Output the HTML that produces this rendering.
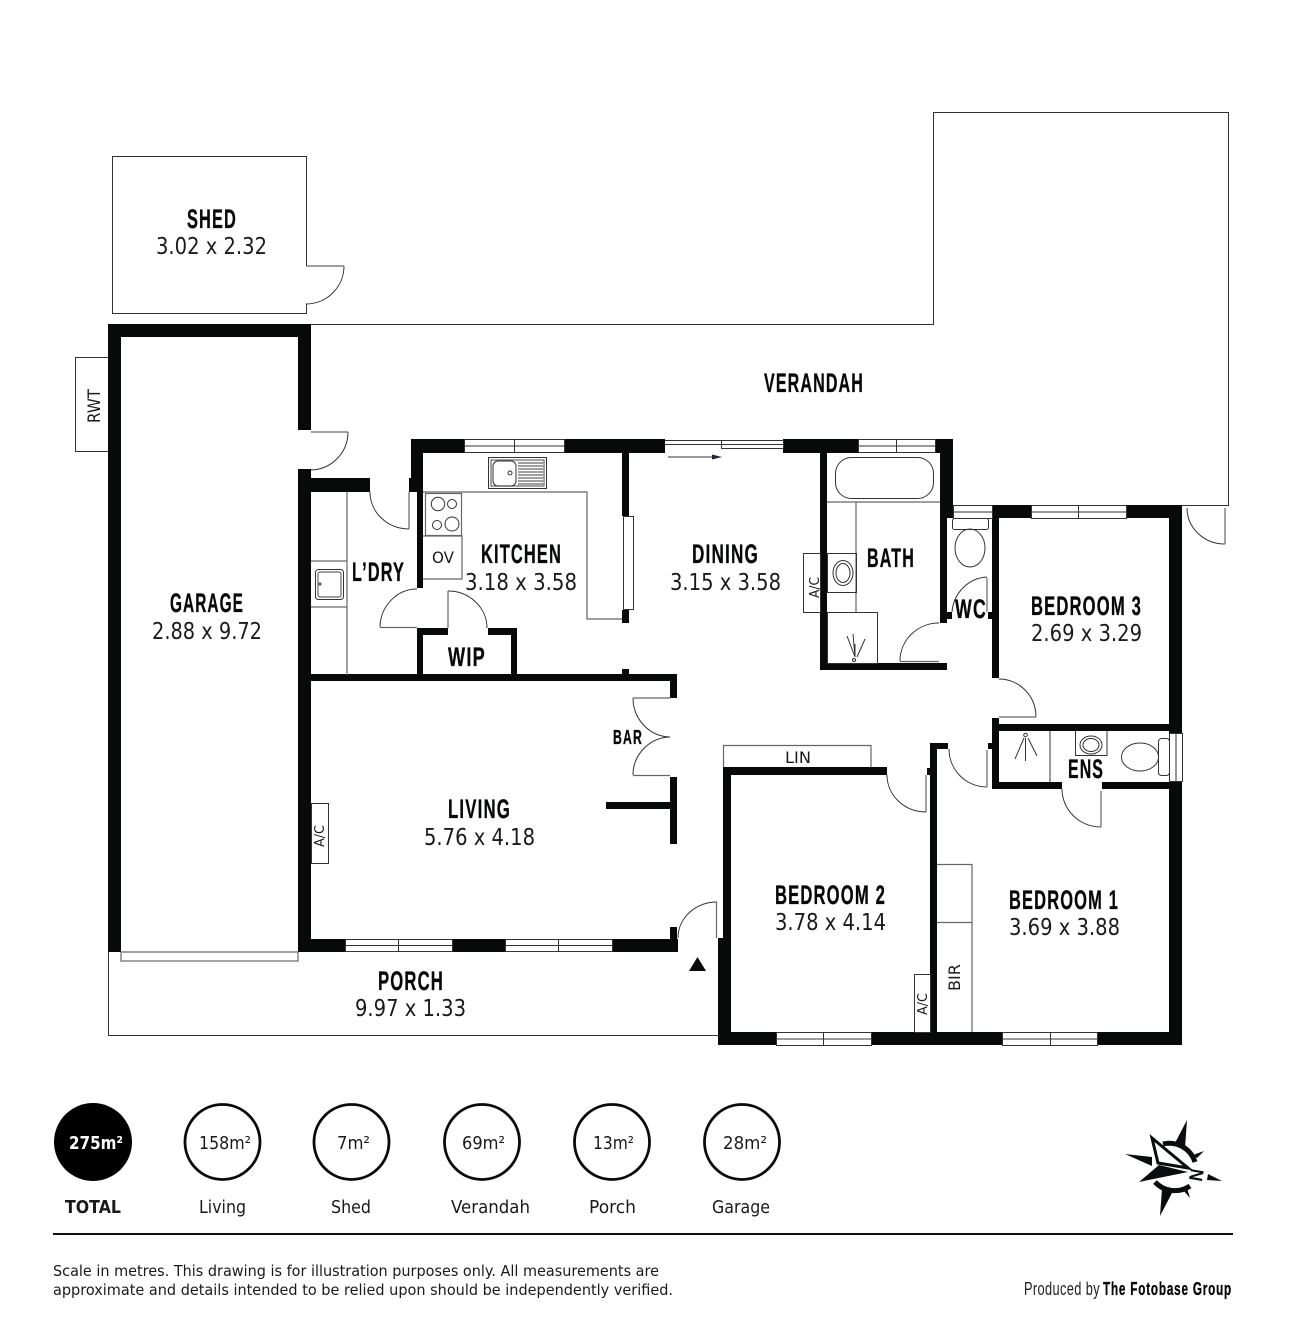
<!DOCTYPE html>
<html><head><meta charset="utf-8"><style>
html,body{margin:0;padding:0;background:#fff}
svg{display:block}
.h{font-family:"Liberation Sans",sans-serif;font-weight:700;fill:#070808;letter-spacing:.07em;stroke:#070808;stroke-width:.35}
.d{font-family:"DejaVu Sans",sans-serif;fill:#1a1a1a}
.w{fill:#080a09}
.t{fill:none;stroke:#333;stroke-width:1}
.g{fill:none;stroke:#666;stroke-width:1.2}
.win{fill:#fff;stroke:#333;stroke-width:1}
</style></head><body>
<svg width="1304" height="1333" viewBox="0 0 1304 1333" xmlns="http://www.w3.org/2000/svg">
<rect width="1304" height="1333" fill="#fff"/>

<!-- outlines -->
<path class="t" d="M306.500 266V156.500H112.500V313.500H306.500V304"/>
<path class="t" d="M311 324.500H933.500V112.500H1228.500V505.500H1182"/>
<path class="t" d="M108.500 952V1035.500H718"/>
<rect class="t" x="75.500" y="357.500" width="33" height="94"/>
<rect class="g" x="121" y="952" width="177" height="9"/>

<!-- door arcs -->
<g class="t">
<path d="M344 266A38 38 0 0 1 306 304"/><path class="g" d="M306 266H344"/>
<path d="M348 432A38 38 0 0 1 311 470"/><path class="g" d="M311 432H348"/>
<path d="M370 492A39 37 0 0 0 409 529"/><path class="g" d="M409 492V529"/>
<path d="M417 589A37 39 0 0 0 380 627"/><path class="g" d="M380 627.500H417"/>
<path d="M448 591A39 37 0 0 1 487 628"/><path class="g" d="M448 591V628"/>
<path d="M633 698A38 39 0 0 0 670 737"/><path class="g" d="M633 698H670"/>
<path d="M670 737A38 38 0 0 0 633 775"/><path class="g" d="M633 775.500H670"/>
<path d="M717 902A39 36 0 0 0 678 938"/><path class="g" d="M716.500 902V938"/>
<path d="M887 775A39 37 0 0 0 926 812"/><path class="g" d="M926 775V812"/>
<path d="M949 749A38 38 0 0 0 987 787"/><path class="g" d="M987 750V787"/>
<path d="M1062 789A39 38 0 0 0 1101 827"/><path class="g" d="M1101 791V827"/>
<path d="M999 679A37 38 0 0 1 1036 717"/><path class="g" d="M999 717H1036"/>
<path d="M939 623A39 38 0 0 0 900 661"/><path class="g" d="M900 661.500H939"/>
<path d="M987 577A37 38 0 0 0 952 612"/><path class="g" d="M987 578V612"/>
<path d="M1187 508A38 36 0 0 0 1225 544"/><path class="g" d="M1225 508V544"/>
</g>

<!-- walls -->
<g class="w">
<rect x="108" y="324" width="203" height="13"/>
<rect x="108" y="324" width="13" height="628"/>
<rect x="298" y="324" width="13" height="106"/>
<rect x="298" y="469" width="13" height="483"/>
<rect x="298" y="478" width="72" height="14"/>
<rect x="411" y="439" width="53" height="14"/>
<rect x="564" y="439" width="101" height="14"/>
<rect x="411" y="439" width="12" height="53"/>
<rect x="409" y="478" width="4" height="14"/>
<rect x="417" y="492" width="6" height="96"/>
<rect x="622" y="453" width="7" height="63"/>
<rect x="622" y="610" width="7" height="13"/>
<rect x="417" y="628" width="31" height="7"/>
<rect x="488" y="628" width="29" height="7"/>
<rect x="417" y="628" width="6" height="50"/>
<rect x="511" y="628" width="6" height="50"/>
<rect x="311" y="674" width="366" height="7"/>
<rect x="622" y="669" width="7" height="6"/>
<rect x="670" y="674" width="7" height="24"/>
<rect x="670" y="777" width="7" height="67"/>
<rect x="606" y="802" width="64" height="7"/>
<rect x="298" y="939" width="47" height="13"/>
<rect x="452" y="939" width="53" height="13"/>
<rect x="612" y="939" width="66" height="13"/>
<rect x="670" y="927" width="7" height="13"/>
<rect x="723" y="767" width="164" height="8"/>
<rect x="723" y="767" width="8" height="278"/>
<rect x="718" y="938" width="13" height="107"/>
<rect x="718" y="1032" width="58" height="13"/>
<rect x="871" y="1032" width="131" height="13"/>
<rect x="1097" y="1032" width="85" height="13"/>
<rect x="930" y="743" width="7" height="290"/>
<rect x="930" y="743" width="18" height="6"/>
<rect x="927" y="768" width="3" height="7"/>
<rect x="988" y="743" width="5" height="6"/>
<rect x="992" y="718" width="7" height="71"/>
<rect x="992" y="724" width="177" height="7"/>
<rect x="992" y="782" width="70" height="7"/>
<rect x="1102" y="782" width="80" height="7"/>
<rect x="1169" y="505" width="13" height="228"/>
<rect x="1169" y="781" width="13" height="264"/>
<rect x="783" y="439" width="75" height="14"/>
<rect x="935" y="439" width="18" height="14"/>
<rect x="820" y="439" width="7" height="231"/>
<rect x="820" y="663" width="127" height="7"/>
<rect x="940" y="439" width="13" height="79"/>
<rect x="940" y="518" width="7" height="105"/>
<rect x="947" y="612" width="5" height="7"/>
<rect x="988" y="612" width="5" height="7"/>
<rect x="992" y="505" width="39" height="13"/>
<rect x="1126" y="505" width="56" height="13"/>
<rect x="992" y="505" width="7" height="173"/>
</g>

<!-- windows -->
<g class="win">
<rect x="464.500" y="439.500" width="100" height="13"/><path d="M464 446H564M514.500 440V452"/>
<rect x="345.500" y="939.500" width="107" height="12"/><path d="M345 945.500H452M398.500 940V951"/>
<rect x="505.500" y="939.500" width="107" height="12"/><path d="M505 945.500H612M558.500 940V951"/>
<rect x="776.500" y="1032.500" width="95" height="13"/><path d="M776 1039H871M823.500 1033V1045"/>
<rect x="1002.500" y="1032.500" width="95" height="13"/><path d="M1002 1039H1097M1050.500 1033V1045"/>
<rect x="858.500" y="439.500" width="77" height="13"/><path d="M858 446H935M896.500 440V452"/>
<rect x="1031.500" y="505.500" width="95" height="13"/><path d="M1031 512H1126M1078.500 506V518"/>
<rect x="953.500" y="505.500" width="39" height="13"/><path d="M953 512H992"/>
<rect x="1169.500" y="733.500" width="13" height="48"/><path d="M1176 733V781"/>
<path d="M665 440.500H721M665 444.500H721"/>
<rect x="721.500" y="440.500" width="62" height="8"/><path d="M721 444.500H783"/>
<rect x="623.500" y="516.500" width="10" height="93"/>
</g>
<path d="M668 457H712" stroke="#333" fill="none"/><path d="M712 454.500L722 457L712 459.500Z" fill="#223"/>

<!-- fixtures -->
<g class="t">
<path class="g" d="M423 492H462M462 492H587V619H622"/>
<path class="g" d="M347 492V675"/>
<path class="g" d="M311 561H347M311 607H347"/>
<rect x="315.500" y="569.500" width="28" height="30" rx="3"/>
<rect x="318" y="572" width="23" height="25" rx="2" class="g"/>
<circle cx="320" cy="584" r="1"/>
<rect x="425.500" y="493.500" width="36" height="42" class="g"/>
<circle cx="438" cy="504" r="6.700"/><circle cx="452" cy="504" r="4.500"/>
<circle cx="437" cy="525" r="4.500"/><circle cx="452" cy="524" r="7"/>
<path class="g" d="M423 536H462V579H423"/>
<rect x="488.500" y="457.500" width="58" height="31"/>
<rect x="491" y="460" width="53" height="26" class="g"/>
<rect x="493" y="461" width="23" height="25" rx="5"/>
<circle cx="510" cy="473" r="2"/>
<path class="g" d="M518 463H543M518 466H543M518 469H543M518 472H543M518 475H543M518 478H543M518 481H543M518 484H543"/>
<rect x="835.500" y="457.500" width="98" height="41" rx="16"/>
<path class="g" d="M827 502H940M856 502V612"/>
<rect x="827.500" y="553.500" width="29" height="39"/>
<ellipse cx="843" cy="573" rx="10" ry="12.500"/><ellipse cx="843" cy="573" rx="7" ry="9.500"/>
<rect x="827.500" y="612.500" width="50" height="51"/>
<path d="M847 636L855 657M853 634L855 657M865 639L857 657M855 644V656"/><circle cx="854" cy="660" r="1.500"/>
<rect x="803.500" y="553.500" width="17" height="59"/>
<rect x="311.500" y="803.500" width="17" height="60"/>
<rect x="914.500" y="974.500" width="16" height="58"/>
<path class="g" d="M937 864.500H972V1032M937 922.500H972"/>
<path class="g" d="M723.500 767V745.500H871V767"/>
<rect x="952.500" y="518.500" width="36" height="11" rx="2"/>
<ellipse cx="970" cy="548" rx="15" ry="19"/>
<path d="M1050 731V782"/>
<path d="M1075.500 731V755.500H1107V731"/>
<ellipse cx="1091" cy="745" rx="11" ry="9"/><ellipse cx="1091" cy="745" rx="8" ry="6.500"/>
<rect x="1158.500" y="738.500" width="11" height="37" rx="3"/>
<ellipse cx="1140" cy="757" rx="18.500" ry="14"/>
<circle cx="1025.500" cy="735" r="1.800"/>
<path d="M1024 738L1015 759M1025.500 738V761M1028 738L1037 756"/>
</g>
<path d="M689 971L697.500 957L706 971Z" fill="#080a09"/>

<!-- room names -->
<g class="h" font-size="27">
<text x="187" y="228" textLength="50" lengthAdjust="spacingAndGlyphs">SHED</text>
<text x="764" y="392" textLength="100" lengthAdjust="spacingAndGlyphs">VERANDAH</text>
<text x="170" y="612" textLength="74" lengthAdjust="spacingAndGlyphs">GARAGE</text>
<text x="481" y="563" textLength="81" lengthAdjust="spacingAndGlyphs">KITCHEN</text>
<text x="692" y="563" textLength="67" lengthAdjust="spacingAndGlyphs">DINING</text>
<text x="867" y="567" textLength="48" lengthAdjust="spacingAndGlyphs">BATH</text>
<text x="352" y="581" textLength="53" lengthAdjust="spacingAndGlyphs">L’DRY</text>
<text x="448" y="666" textLength="38" lengthAdjust="spacingAndGlyphs">WIP</text>
<text x="448" y="818" textLength="63" lengthAdjust="spacingAndGlyphs">LIVING</text>
<text x="775" y="904" textLength="111" lengthAdjust="spacingAndGlyphs">BEDROOM 2</text>
<text x="1009" y="909" textLength="110" lengthAdjust="spacingAndGlyphs">BEDROOM 1</text>
<text x="1031" y="615" textLength="111" lengthAdjust="spacingAndGlyphs">BEDROOM 3</text>
<text x="955" y="618" textLength="32" lengthAdjust="spacingAndGlyphs">WC</text>
<text x="1068" y="778" textLength="36" lengthAdjust="spacingAndGlyphs">ENS</text>
<text x="378" y="990" textLength="66" lengthAdjust="spacingAndGlyphs">PORCH</text>
<text x="613" y="744" font-size="20" textLength="30" lengthAdjust="spacingAndGlyphs">BAR</text>
</g>

<!-- dimensions -->
<g class="d" font-size="23">
<text x="156" y="254" textLength="111" lengthAdjust="spacingAndGlyphs">3.02 x 2.32</text>
<text x="465" y="590" textLength="112" lengthAdjust="spacingAndGlyphs">3.18 x 3.58</text>
<text x="670" y="590" textLength="111" lengthAdjust="spacingAndGlyphs">3.15 x 3.58</text>
<text x="152" y="639" textLength="110" lengthAdjust="spacingAndGlyphs">2.88 x 9.72</text>
<text x="1031" y="641" textLength="111" lengthAdjust="spacingAndGlyphs">2.69 x 3.29</text>
<text x="424" y="845" textLength="111" lengthAdjust="spacingAndGlyphs">5.76 x 4.18</text>
<text x="775" y="930" textLength="111" lengthAdjust="spacingAndGlyphs">3.78 x 4.14</text>
<text x="1009" y="935" textLength="111" lengthAdjust="spacingAndGlyphs">3.69 x 3.88</text>
<text x="355" y="1016" textLength="111" lengthAdjust="spacingAndGlyphs">9.97 x 1.33</text>
</g>

<!-- small labels -->
<g class="d" font-size="15">
<text x="432" y="563" font-size="16" textLength="22" lengthAdjust="spacingAndGlyphs">OV</text>
<text x="785" y="763" font-size="16" textLength="26" lengthAdjust="spacingAndGlyphs">LIN</text>
<text transform="translate(100,423) rotate(-90)" font-size="16.500" textLength="34" lengthAdjust="spacingAndGlyphs">RWT</text>
<text transform="translate(819,598) rotate(-90)" font-size="13" textLength="21" lengthAdjust="spacingAndGlyphs">A/C</text>
<text transform="translate(324,847) rotate(-90)" font-size="13" textLength="22" lengthAdjust="spacingAndGlyphs">A/C</text>
<text transform="translate(927,1015) rotate(-90)" font-size="13" textLength="22" lengthAdjust="spacingAndGlyphs">A/C</text>
<text transform="translate(960,991) rotate(-90)" font-size="16" textLength="27" lengthAdjust="spacingAndGlyphs">BIR</text>
</g>

<!-- area circles -->
<circle cx="93" cy="1142" r="39" fill="#000"/>
<g fill="none" stroke="#0a0a0a" stroke-width="2.800">
<circle cx="222.500" cy="1142" r="37.500"/>
<circle cx="351.500" cy="1142" r="37.500"/>
<circle cx="482" cy="1142" r="37.500"/>
<circle cx="612" cy="1142" r="37.500"/>
<circle cx="742" cy="1142" r="37.500"/>
</g>
<g class="d" font-size="18">
<text x="69" y="1149" style="fill:#fff;font-weight:700" textLength="54" lengthAdjust="spacingAndGlyphs">275m²</text>
<text x="199" y="1149" textLength="52" lengthAdjust="spacingAndGlyphs">158m²</text>
<text x="337" y="1149" textLength="33" lengthAdjust="spacingAndGlyphs">7m²</text>
<text x="462" y="1149" textLength="43" lengthAdjust="spacingAndGlyphs">69m²</text>
<text x="593" y="1149" textLength="41" lengthAdjust="spacingAndGlyphs">13m²</text>
<text x="723" y="1149" textLength="44" lengthAdjust="spacingAndGlyphs">28m²</text>
</g>
<g class="d" font-size="18">
<text x="65" y="1213" style="font-weight:700" textLength="56" lengthAdjust="spacingAndGlyphs">TOTAL</text>
<text x="199" y="1213" textLength="47" lengthAdjust="spacingAndGlyphs">Living</text>
<text x="331" y="1213" textLength="40" lengthAdjust="spacingAndGlyphs">Shed</text>
<text x="451" y="1213" textLength="79" lengthAdjust="spacingAndGlyphs">Verandah</text>
<text x="589" y="1213" textLength="47" lengthAdjust="spacingAndGlyphs">Porch</text>
<text x="712" y="1213" textLength="58" lengthAdjust="spacingAndGlyphs">Garage</text>
</g>

<!-- compass -->
<g fill="#0a0d0e">
<path d="M1187 1120L1175 1143L1185 1148Z"/>
<path d="M1125 1154L1152 1157V1166Z"/>
<path d="M1160 1216L1172 1193L1162 1189Z"/>
<path d="M1222 1181L1208 1174L1207 1180Z"/>
<path d="M1204 1151L1193 1155L1197 1158Z"/>
<path d="M1190 1198L1183 1190L1187 1188Z"/>
<path d="M1139 1182L1159 1165L1188 1172Z"/>
<path d="M1152 1138L1188 1168L1158 1163Z" fill="#fff" stroke="#0a0d0e" stroke-width="3"/>
<path d="M1163 1144A27 27 0 0 1 1195 1162" fill="none" stroke="#0a0d0e" stroke-width="5"/>
<path d="M1155 1182A27 27 0 0 0 1190 1186" fill="none" stroke="#0a0d0e" stroke-width="5"/>
<text transform="translate(1191,1168) rotate(100)" font-family="Liberation Sans,sans-serif" font-weight="700" font-size="19" textLength="12" lengthAdjust="spacingAndGlyphs">N</text>
</g>

<rect x="53" y="1233" width="1180" height="2" fill="#111"/>
<g class="d" font-size="15">
<text x="53" y="1276" textLength="606" lengthAdjust="spacingAndGlyphs">Scale in metres. This drawing is for illustration purposes only. All measurements are</text>
<text x="53" y="1295" textLength="620" lengthAdjust="spacingAndGlyphs">approximate and details intended to be relied upon should be independently verified.</text>
</g>
<text x="1024" y="1295" font-family="Liberation Sans,sans-serif" font-size="18" fill="#222" letter-spacing=".5" textLength="76" lengthAdjust="spacingAndGlyphs">Produced by</text>
<text x="1103" y="1295" class="h" font-size="18" textLength="129" lengthAdjust="spacingAndGlyphs">The Fotobase Group</text>
</svg>
</body></html>
